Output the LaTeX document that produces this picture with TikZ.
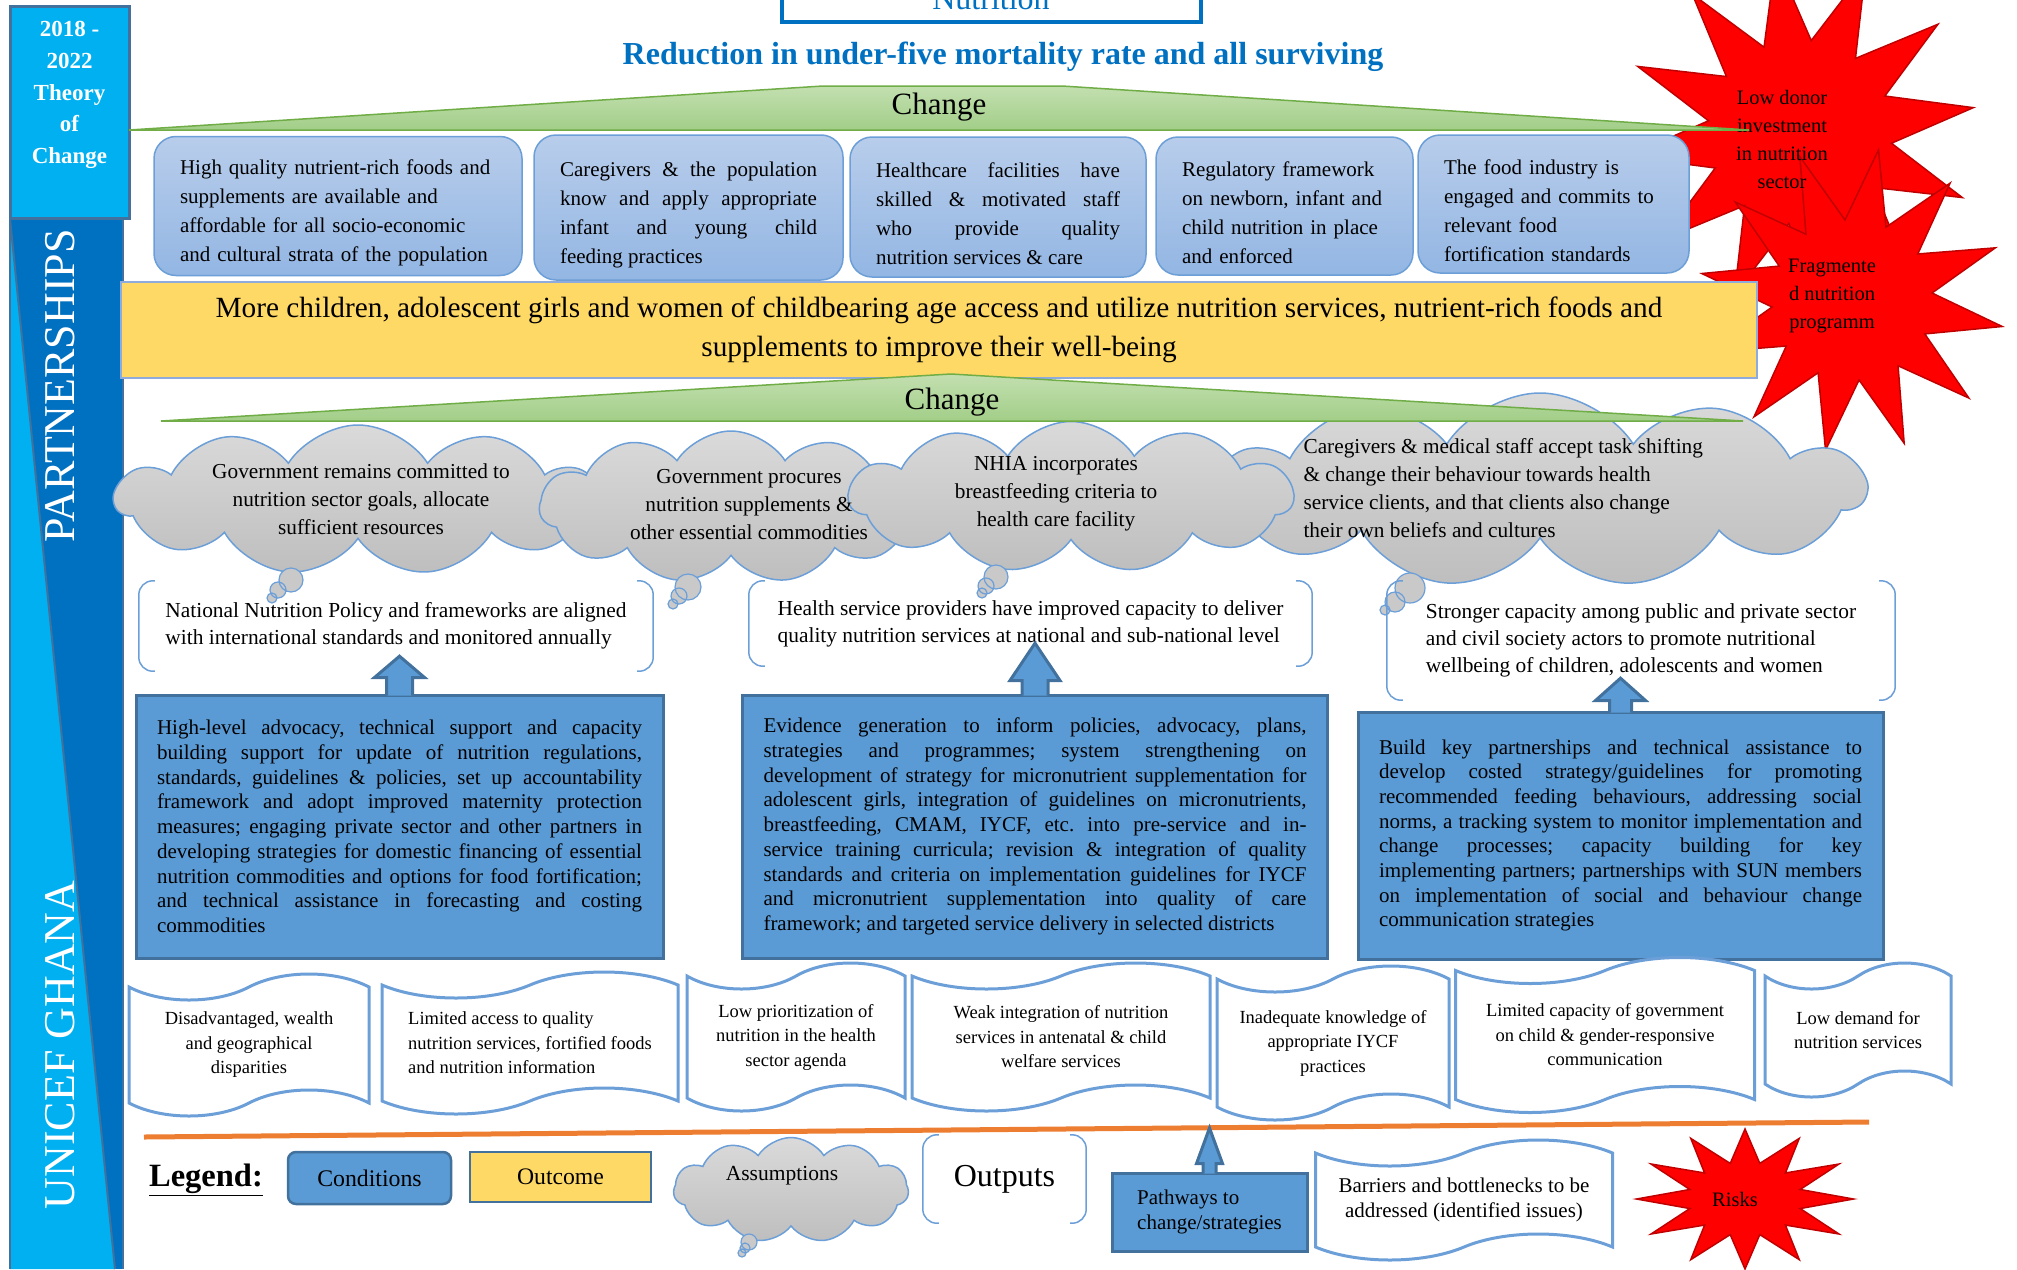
\documentclass[tikz,border=0pt]{standalone}
\usepackage{fontspec}
\setmainfont{Liberation Serif}
\usetikzlibrary{shapes.geometric, shapes.symbols, positioning, calc}
\definecolor{SideCyan}{HTML}{00B0F0}
\definecolor{SideBlue}{HTML}{0070C0}
\definecolor{SteelLine}{HTML}{41719C}
\definecolor{PathBlue}{HTML}{5B9BD5}
\definecolor{CondTop}{HTML}{B8CDEB}
\definecolor{CondBot}{HTML}{93B6E3}
\definecolor{CondLine}{HTML}{6C9FD8}
\definecolor{OutcomeYellow}{HTML}{FFD966}
\definecolor{OutcomeLine}{HTML}{8FAADC}
\definecolor{ChangeTop}{HTML}{C3DFB0}
\definecolor{ChangeBot}{HTML}{A2CE88}
\definecolor{ChangeLine}{HTML}{70AD47}
\definecolor{CloudTop}{HTML}{DADADA}
\definecolor{CloudBot}{HTML}{BEBEBE}
\definecolor{RiskRed}{HTML}{FF0000}
\definecolor{RiskLine}{HTML}{C00000}
\definecolor{LineOrange}{HTML}{ED7D31}

\newcommand{\fsz}[2]{\fontsize{#1}{#2}\selectfont}
% bracket pair round an output
\newcommand{\outbrace}[1]{%
  \draw[braceline] ([xshift=16pt]#1.north west) -- (#1.north west) -- (#1.south west) -- ([xshift=16pt]#1.south west);
  \draw[braceline] ([xshift=-16pt]#1.north east) -- (#1.north east) -- (#1.south east) -- ([xshift=-16pt]#1.south east);}
% block arrow: source node, target point, overlap, stem half, head half, stem length
\newcommand{\upblock}[6]{%
  \filldraw[arrowblock] ([xshift=-#4pt,yshift=-2pt]#1.north) -- ([xshift=-#4pt,yshift=#6pt]#1.north) -- ([xshift=-#5pt,yshift=#6pt]#1.north) -- ($(#1.north |- #2)+(0,-#3)$) -- ([xshift=#5pt,yshift=#6pt]#1.north) -- ([xshift=#4pt,yshift=#6pt]#1.north) -- ([xshift=#4pt,yshift=-2pt]#1.north);}

\tikzset{
  condbox/.style={draw=CondLine, line width=1.5pt, rounded corners=22pt, top color=CondTop, bottom color=CondBot, inner xsep=26pt, inner ysep=0pt, align=left, font=\fsz{21}{29}, execute at begin node={\rule{0pt}{29pt}}},
  outcomebox/.style={draw=OutcomeLine, line width=1.5pt, fill=OutcomeYellow, align=center, font=\fsz{29.3}{38.5}},
  changeshape/.style={draw=ChangeLine, line width=1.5pt, top color=ChangeTop, bottom color=ChangeBot},
  changetext/.style={font=\fsz{31}{36}},
  assumecloud/.style={cloud, cloud puffs=11, cloud puff arc=115, cloud ignores aspect, draw=CondLine, line width=1.5pt, top color=CloudTop, bottom color=CloudBot},
  bubble/.style={draw=CondLine, line width=1.2pt, fill=CloudBot!60!CloudTop},
  assumetext/.style={align=center, font=\fsz{21.3}{28}},
  braceline/.style={draw=CondLine, line width=1.5pt, rounded corners=14pt},
  outputbox/.style={align=left, font=\fsz{21.4}{27}},
  pathbox/.style={draw=SteelLine, line width=3pt, fill=PathBlue, inner xsep=21pt, inner ysep=0pt, align=justify, font=\fsz{21}{24.7}\frenchspacing},
  arrowblock/.style={draw=SteelLine, line width=3pt, fill=PathBlue},
  barriertape/.style={tape, draw=CondLine, line width=3pt, fill=white, tape bend height=26pt, align=center, font=\fsz{18.5}{24.5}},
  riskstar/.style={star, star points=12, star point ratio=1.9, draw=RiskLine, line width=1.5pt, fill=RiskRed},
  risktext/.style={align=center, font=\fsz{20.5}{28}},
}

\begin{document}
\begin{tikzpicture}[x=1pt, y=-1pt]
  \useasboundingbox (0,0) rectangle (2017,1269);

  % side band
  \fill[SideBlue] (10,218) rectangle (123,1269);
  \fill[SideCyan] (10,218) -- (115,1269) -- (10,1269) -- cycle;
  \draw[SteelLine, line width=2pt] (10,218) -- (115,1269);
  \draw[SteelLine, line width=2pt] (10,1269) -- (10,218) -- (123,218) -- (123,1269);
  \node (tocbox) [fill=SideCyan, draw=SteelLine, line width=3pt, minimum width=119pt, minimum height=212pt] at (69.5,112) {};
  \node (toctext) [text=white, align=center, font=\bfseries\fsz{23}{31.7}] at (69.5,95) {2018 -\\2022\\Theory\\of\\Change};
  \node (partnerlabel) [rotate=90, text=white, font=\fsz{44}{48}] at (60,386) {PARTNERSHIPS};
  \node (uniceflabel) [rotate=90, text=white, font=\fsz{44}{48}] at (60,1045) {UNICEF GHANA};

  % risks
  \node (risk1) [riskstar, minimum size=350pt, shape border rotate=8] at (1800,132) {};
  \node (risk2) [riskstar, minimum size=305pt, shape border rotate=20] at (1852,300) {};
  \node (risk1text) [risktext] at (1782,139) {Low donor\\investment\\in nutrition\\sector};
  \node (risk2text) [risktext] at (1832,296) {Fragmente\\d nutrition\\programm};

  % impact
  \node (goalbox) [draw=SideBlue, line width=4pt, fill=white, minimum width=419pt, minimum height=46pt, anchor=south, text=SideBlue, font=\fsz{32}{36}] at (991,24) {Nutrition};
  \node (impact) [text=SideBlue, font=\bfseries\fsz{32}{36}] at (1003,57) {Reduction in under-five mortality rate and all surviving};

  \draw[changeshape] (129,130) -- (823,86) -- (1062,86) -- (1749,130) -- cycle;
  \node (change1) [changetext] at (939,107) {Change};

  % conditions
  \node (cond1) [condbox, text width=316pt, minimum height=139pt] at (338,206) {High quality nutrient-rich foods and\\supplements are available and\\affordable for all socio-economic\\and cultural strata of the population};
  \node (cond2) [condbox, align=justify, text width=257pt, minimum height=145pt] at (688.5,207.5) {Caregivers \& the population\linebreak know and apply appropriate\linebreak infant and young child\linebreak feeding practices};
  \node (cond3) [condbox, align=justify, text width=244pt, minimum height=140pt] at (998,207) {Healthcare facilities have\linebreak skilled \& motivated staff\linebreak who provide quality\linebreak nutrition services \& care};
  \node (cond4) [condbox, text width=205pt, minimum height=138pt] at (1284.5,206) {Regulatory framework\\on newborn, infant and\\child nutrition in place\\and enforced};
  \node (cond5) [condbox, text width=219pt, minimum height=138pt] at (1553.5,204) {The food industry is\\engaged and commits to\\relevant food\\fortification standards};

  % outcome
  \node (outcome) [outcomebox, minimum width=1636pt, minimum height=96pt] at (939,330) {More children, adolescent girls and women of childbearing age access and utilize nutrition services, nutrient-rich foods and\\supplements to improve their well-being};

  % assumptions
  \node (assume1) [assumecloud, minimum width=486pt, minimum height=150pt] at (358,500) {};
  \node (assume2) [assumecloud, minimum width=383pt, minimum height=152pt] at (731,507) {};
  \node (assume4) [assumecloud, minimum width=650pt, minimum height=194pt] at (1540,490) {};
  \node (assume3) [assumecloud, minimum width=444pt, minimum height=151pt] at (1071,497) {};
  \draw[bubble] (291,580) circle (12pt) (278,590) circle (8pt) (272,598) circle (5pt);
  \draw[bubble] (688,587) circle (13pt) (679,596) circle (8pt) (673,604) circle (5pt);
  \draw[bubble] (996,577) circle (12pt) (986,586) circle (8pt) (982,593) circle (5pt);
  \draw[bubble] (1410,588) circle (15pt) (1395,602) circle (10pt) (1385,610) circle (5pt);
  \node (assume1text) [assumetext] at (361,499) {Government remains committed to\\nutrition sector goals, allocate\\sufficient resources};
  \node (assume2text) [assumetext] at (749,505) {Government procures\\nutrition supplements \&\\other essential commodities};
  \node (assume3text) [assumetext] at (1056,494) {NHIA incorporates\\breastfeeding criteria to\\health care facility};
  \node (assume4text) [assumetext, align=left, anchor=west] at (1300,488) {Caregivers \& medical staff accept task shifting\\\& change their behaviour towards health\\service clients, and that clients also change\\their own beliefs and cultures};

  \draw[changeshape] (161,421) -- (951,374) -- (1743,421) -- cycle;
  \node (change2) [changetext] at (952,402) {Change};

  % outputs
  \node (output1) [outputbox, minimum width=514pt, minimum height=90pt] at (396,626) {National Nutrition Policy and frameworks are aligned\\with international standards and monitored annually};
  \node (output2) [outputbox, minimum width=563pt, minimum height=85pt] at (1030.5,623.5) {Health service providers have improved capacity to deliver\\quality nutrition services at national and sub-national level};
  \node (output3) [outputbox, minimum width=508pt, minimum height=119pt] at (1641,640.5) {Stronger capacity among public and private sector\\and civil society actors to promote nutritional\\wellbeing of children, adolescents and women};
  \outbrace{output1}
  \outbrace{output2}
  \outbrace{output3}

  % pathways to change
  \node (pathA) [pathbox, text width=485pt, minimum height=263pt] at (399.5,826.5) {High-level advocacy, technical support and capacity\linebreak building support for update of nutrition regulations,\linebreak standards, guidelines \& policies, set up accountability\linebreak framework and adopt improved maternity protection\linebreak measures; engaging private sector and other partners in\linebreak developing strategies for domestic financing of essential\linebreak nutrition commodities and options for food fortification;\linebreak and technical assistance in forecasting and costing\linebreak commodities};
  \node (pathB) [pathbox, text width=543pt, minimum height=263pt] at (1035,826.5) {Evidence generation to inform policies, advocacy, plans,\linebreak strategies and programmes; system strengthening on\linebreak development of strategy for micronutrient supplementation for\linebreak adolescent girls, integration of guidelines on micronutrients,\linebreak breastfeeding, CMAM, IYCF, etc.\ into pre-service and in-\linebreak service training curricula; revision \& integration of quality\linebreak standards and criteria on implementation guidelines for IYCF\linebreak and micronutrient supplementation into quality of care\linebreak framework; and targeted service delivery in selected districts};
  \node (pathC) [pathbox, text width=483pt, minimum height=247pt] at (1620.5,835.5) {Build key partnerships and technical assistance to\linebreak develop costed strategy/guidelines for promoting\linebreak recommended feeding behaviours, addressing social\linebreak norms, a tracking system to monitor implementation and\linebreak change processes; capacity building for key\linebreak implementing partners; partnerships with SUN members\linebreak on implementation of social and behaviour change\linebreak communication strategies};
  \upblock{pathA}{output1.south}{15}{13}{25}{16}
  \upblock{pathB}{output2.south}{23}{13}{25}{13}
  \upblock{pathC}{output3.south}{22}{11}{25}{10}

  % barriers
  \node (barrier1) [barriertape, minimum width=240pt, minimum height=142pt] at (249,1045) {Disadvantaged, wealth\\and geographical\\disparities};
  \node (barrier2) [barriertape, align=left, minimum width=296pt, minimum height=142pt] at (530,1043) {Limited access to quality\\nutrition services, fortified foods\\and nutrition information};
  \node (barrier3) [barriertape, minimum width=218pt, minimum height=148pt] at (796,1037) {Low prioritization of\\nutrition in the health\\sector agenda};
  \node (barrier4) [barriertape, minimum width=298pt, minimum height=148pt] at (1061,1037) {Weak integration of nutrition\\services in antenatal \& child\\welfare services};
  \node (barrier5) [barriertape, minimum width=232pt, minimum height=154pt] at (1333,1043) {Inadequate knowledge of\\appropriate IYCF\\practices};
  \node (barrier6) [barriertape, minimum width=299pt, minimum height=155pt] at (1605,1035) {Limited capacity of government\\on child \& gender-responsive\\communication};
  \node (barrier7) [barriertape, minimum width=186pt, minimum height=134pt] at (1858,1030) {Low demand for\\nutrition services};

  \draw[LineOrange, line width=5pt] (144,1137) -- (1869,1122);

  % legend
  \node (legtitle) [font=\bfseries\fsz{32.5}{36}] at (206,1180) {\underline{Legend:}};
  \node (legcond) [draw=SteelLine, line width=2.5pt, fill=PathBlue, rounded corners=8pt, minimum width=163pt, minimum height=52pt, font=\fsz{23.8}{27}] at (369.5,1178) {Conditions};
  \node (legoutcome) [draw=SteelLine, line width=2pt, fill=OutcomeYellow, minimum width=181pt, minimum height=50pt, font=\fsz{23.7}{27}] at (560.5,1177) {Outcome};
  \node (legassume) [assumecloud, minimum width=235pt, minimum height=105pt] at (791,1190) {};
  \draw[bubble] (749,1242) circle (8pt) (745,1248) circle (5pt) (742,1253) circle (4pt);
  \node (legassumetext) [font=\fsz{21.5}{25}] at (782,1176) {Assumptions};
  \node (legoutput) [font=\fsz{32}{36}, minimum width=163pt, minimum height=88pt] at (1004.5,1179) {Outputs};
  \outbrace{legoutput}
  \coordinate (legapex) at (1209,1128);
  \node (legpath) [pathbox, align=left, font=\fsz{21}{24.5}, minimum width=195pt, minimum height=78pt, inner xsep=20pt] at (1209.5,1212) {Pathways to\\change/strategies};
  \upblock{legpath}{legapex}{0}{6.5}{13}{8}
  \node (legbarrier) [barriertape, font=\fsz{21}{25}, minimum width=297pt, minimum height=120pt] at (1464,1200) {Barriers and bottlenecks to be\\addressed (identified issues)};
  \node (legrisk) [riskstar, minimum size=140pt, xscale=1.55, transform shape] at (1745,1199) {};
  \node (legrisktext) [risktext] at (1735,1199) {Risks};
\end{tikzpicture}
\end{document}
